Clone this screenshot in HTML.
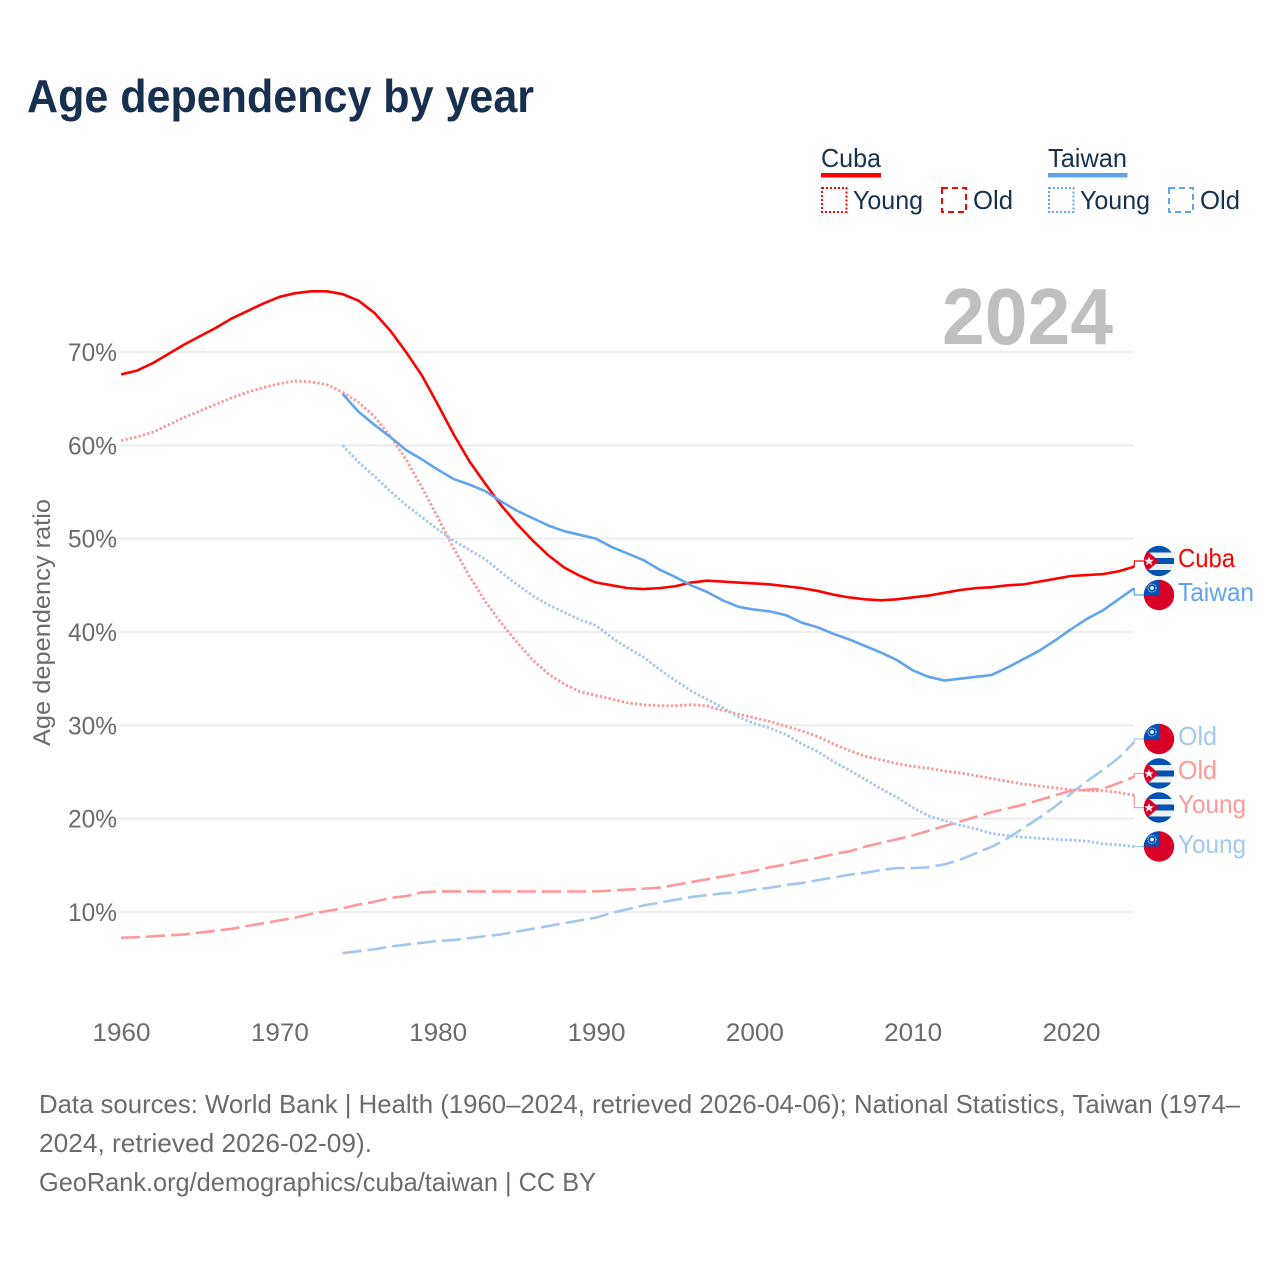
<!DOCTYPE html>
<html lang="en">
<head>
<meta charset="utf-8">
<title>Age dependency by year</title>
<style>
html,body{margin:0;padding:0;background:#fff;width:1280px;height:1280px;overflow:hidden}
svg{display:block}
text{font-family:"Liberation Sans",sans-serif}
</style>
</head>
<body>
<svg id="chart" xmlns="http://www.w3.org/2000/svg" width="1280" height="1280" viewBox="0 0 1280 1280">
<defs>
<clipPath id="flag-clip"><circle cx="0" cy="0" r="15.2"/></clipPath>
<g id="flag-cuba" clip-path="url(#flag-clip)">
<rect x="-16" y="-16" width="32" height="32" fill="#f0f0f0"/>
<rect x="-16" y="-16" width="32" height="7.5" fill="#0052b4"/>
<rect x="-16" y="-3" width="32" height="6" fill="#0052b4"/>
<rect x="-16" y="9" width="32" height="7" fill="#0052b4"/>
<polygon points="-15,-13 0,0 -15,13" fill="#d80027"/>
<polygon points="-10,-4.2 -8.6,-1.2 -5.2,-1.2 -7.8,0.9 -6.9,4.2 -10,2.2 -13,4.2 -12.1,0.9 -14.8,-1.2 -11.4,-1.2" fill="#f0f0f0"/>
</g>
<g id="flag-taiwan" clip-path="url(#flag-clip)">
<rect x="-16" y="-16" width="32" height="32" fill="#d80027"/>
<rect x="-16" y="-16" width="16" height="16" fill="#0052b4"/>
<circle cx="-7" cy="-7" r="1.9" fill="#f0f0f0"/>
<circle cx="-7" cy="-7" r="4" fill="none" stroke="#f0f0f0" stroke-width="1" stroke-dasharray="1 1"/>
</g>
</defs>

<text x="27" y="112" font-size="46" font-weight="bold" fill="#17304f" textLength="507" lengthAdjust="spacingAndGlyphs">Age dependency by year</text>

<g fill="#17304f" font-size="26">
<text x="821" y="167" textLength="60" lengthAdjust="spacingAndGlyphs">Cuba</text>
<rect x="821" y="173" width="60" height="4.5" fill="#ff0000"/>
<rect x="822" y="188" width="24.5" height="24" fill="none" stroke="#ff0000" stroke-width="2" stroke-dasharray="2 2"/>
<text x="853" y="209" textLength="70" lengthAdjust="spacingAndGlyphs">Young</text>
<rect x="942" y="188" width="24" height="24" fill="none" stroke="#ff0000" stroke-width="2" stroke-dasharray="6 4"/>
<text x="973" y="209" textLength="40" lengthAdjust="spacingAndGlyphs">Old</text>

<text x="1048" y="167" textLength="79" lengthAdjust="spacingAndGlyphs">Taiwan</text>
<rect x="1048" y="173" width="79.5" height="4.5" fill="#60a5ec"/>
<rect x="1049" y="188" width="24.5" height="24" fill="none" stroke="#60a5ec" stroke-width="2" stroke-dasharray="2 2"/>
<text x="1080" y="209" textLength="70" lengthAdjust="spacingAndGlyphs">Young</text>
<rect x="1169" y="188" width="24" height="24" fill="none" stroke="#60a5ec" stroke-width="2" stroke-dasharray="6 4"/>
<text x="1200" y="209" textLength="40" lengthAdjust="spacingAndGlyphs">Old</text>
</g>

<g id="grid"></g>
<text x="942" y="344" font-size="80" font-weight="bold" fill="#bfbfbf" textLength="171" lengthAdjust="spacingAndGlyphs">2024</text>
<g id="y-ticks"></g>
<g id="x-ticks"></g>
<text transform="translate(50,746) rotate(-90)" x="0" y="0" font-size="24" fill="#6b6b6b" textLength="247" lengthAdjust="spacingAndGlyphs">Age dependency ratio</text>
<g id="series"></g>

<g font-size="26">
<use href="#flag-cuba" x="1159" y="561"/>
<text x="1178" y="567" fill="#ff0000" textLength="57" lengthAdjust="spacingAndGlyphs">Cuba</text>
<use href="#flag-taiwan" x="1159" y="595"/>
<text x="1178" y="601" fill="#60a5ec" textLength="76" lengthAdjust="spacingAndGlyphs">Taiwan</text>
<use href="#flag-taiwan" x="1159" y="739"/>
<text x="1178" y="745" fill="#a0c8f2" textLength="39" lengthAdjust="spacingAndGlyphs">Old</text>
<use href="#flag-cuba" x="1159" y="773.5"/>
<text x="1178" y="779" fill="#ff9999" textLength="39" lengthAdjust="spacingAndGlyphs">Old</text>
<use href="#flag-cuba" x="1159" y="807.5"/>
<text x="1178" y="813" fill="#ff9999" textLength="68" lengthAdjust="spacingAndGlyphs">Young</text>
<use href="#flag-taiwan" x="1159" y="846.5"/>
<text x="1178" y="853" fill="#a0c8f2" textLength="68" lengthAdjust="spacingAndGlyphs">Young</text>
</g>

<g font-size="26" fill="#6b6b6b">
<text x="39" y="1113" textLength="1201" lengthAdjust="spacingAndGlyphs">Data sources: World Bank | Health (1960–2024, retrieved 2026-04-06); National Statistics, Taiwan (1974–</text>
<text x="39" y="1152" textLength="333" lengthAdjust="spacingAndGlyphs">2024, retrieved 2026-02-09).</text>
<text x="39" y="1191" textLength="557" lengthAdjust="spacingAndGlyphs">GeoRank.org/demographics/cuba/taiwan | CC BY</text>
</g>
</svg>

<script>
const yTickValues = [10, 20, 30, 40, 50, 60, 70];
const xTickValues = [1960, 1970, 1980, 1990, 2000, 2010, 2020];
const cubaStartYear = 1960;
const taiwanStartYear = 1974;
const cubaTotal = [67.6,68.0,68.8,69.8,70.8,71.7,72.6,73.6,74.4,75.2,75.9,76.3,76.5,76.5,76.2,75.5,74.2,72.3,70.0,67.5,64.4,61.2,58.3,55.9,53.6,51.6,49.8,48.2,46.9,46.0,45.3,45.0,44.7,44.6,44.7,44.9,45.3,45.5,45.4,45.3,45.2,45.1,44.9,44.7,44.4,44.0,43.7,43.5,43.4,43.5,43.7,43.9,44.2,44.5,44.7,44.8,45.0,45.1,45.4,45.7,46.0,46.1,46.2,46.5,47.0];
const cubaYoung = [60.5,60.9,61.4,62.2,63.0,63.7,64.4,65.1,65.7,66.2,66.6,66.9,66.8,66.5,65.7,64.6,63.1,61.0,58.5,55.5,52.3,49.0,46.0,43.3,41.0,38.9,37.0,35.5,34.4,33.6,33.2,32.8,32.4,32.2,32.1,32.1,32.2,32.1,31.6,31.2,30.8,30.4,29.9,29.4,28.8,28.0,27.3,26.7,26.3,25.9,25.6,25.4,25.1,24.9,24.6,24.3,24.0,23.7,23.5,23.3,23.1,23.0,23.0,22.8,22.5];
const cubaOld = [7.25,7.3,7.4,7.5,7.6,7.8,8.0,8.2,8.5,8.8,9.1,9.4,9.8,10.1,10.4,10.8,11.1,11.5,11.7,12.1,12.2,12.2,12.2,12.2,12.2,12.2,12.2,12.2,12.2,12.2,12.2,12.3,12.4,12.5,12.6,12.9,13.2,13.5,13.8,14.1,14.4,14.8,15.1,15.5,15.8,16.2,16.5,17.0,17.4,17.8,18.2,18.7,19.2,19.7,20.2,20.7,21.1,21.5,22.0,22.5,23.0,23.1,23.2,23.8,24.5];
const taiwanTotal = [65.5,63.6,62.2,60.9,59.5,58.5,57.4,56.4,55.8,55.1,54.0,53.0,52.2,51.4,50.8,50.4,50.0,49.1,48.4,47.7,46.7,45.9,45.0,44.3,43.4,42.7,42.4,42.2,41.8,41.0,40.5,39.8,39.2,38.5,37.8,37.0,35.9,35.2,34.8,35.0,35.2,35.4,36.2,37.1,38.0,39.1,40.3,41.4,42.3,43.5,44.7];
const taiwanYoung = [60.0,58.2,56.7,55.1,53.6,52.3,51.0,49.8,48.8,47.8,46.4,45.1,43.9,42.9,42.1,41.3,40.7,39.4,38.3,37.3,36.0,34.8,33.7,32.8,31.9,30.9,30.2,29.7,29.0,28.0,27.2,26.1,25.2,24.2,23.2,22.3,21.2,20.3,19.8,19.3,18.9,18.4,18.2,18.0,17.9,17.8,17.7,17.6,17.3,17.2,17.0];
const taiwanOld = [5.6,5.8,6.0,6.3,6.5,6.7,6.9,7.0,7.2,7.4,7.6,7.9,8.2,8.5,8.8,9.1,9.4,9.9,10.3,10.7,11.0,11.3,11.6,11.8,12.0,12.1,12.4,12.6,12.9,13.1,13.4,13.7,14.0,14.2,14.5,14.7,14.7,14.8,15.1,15.6,16.3,17.0,17.9,19.0,20.1,21.3,22.7,24.0,25.2,26.5,28.2];

const NS = 'http://www.w3.org/2000/svg';
function xScale(year) { return 121 + (year - 1960) * (950 / 60); }
function yScale(v) { return 912 - (v - 10) * (560 / 60); }
function make(tag, parent, attrs, text) {
  const el = document.createElementNS(NS, tag);
  for (const k in attrs) el.setAttribute(k, attrs[k]);
  if (text !== undefined) el.textContent = text;
  parent.appendChild(el);
  return el;
}
const grid = document.getElementById('grid');
const yT = document.getElementById('y-ticks');
const xT = document.getElementById('x-ticks');
const seriesG = document.getElementById('series');

yTickValues.forEach(function (v) {
  const line = make('line', grid, {x1: 119, x2: 1134, y1: yScale(v), y2: yScale(v), stroke: '#e8e8e8', 'stroke-width': 1.5});
  
  
  const label = make('text', yT, {x: 117, y: yScale(v) + 9, 'text-anchor': 'end', 'font-size': 25, fill: '#6b6b6b', textLength: 49, lengthAdjust: 'spacingAndGlyphs'}, v + '%');
  
  
});
xTickValues.forEach(function (yr) {
  const label = make('text', xT, {x: xScale(yr) + 0.5, y: 1041, 'text-anchor': 'middle', 'font-size': 25, fill: '#6b6b6b', textLength: 58, lengthAdjust: 'spacingAndGlyphs'}, String(yr));
  
  
});

function pathFor(values, start) {
  return values.map(function (v, i) {
    return (i ? 'L' : 'M') + xScale(start + i).toFixed(2) + ' ' + yScale(v).toFixed(2);
  }).join(' ');
}
function drawSeries(values, start, color, dash, width, labelY, name) {
  const attrs = {d: pathFor(values, start), fill: 'none', stroke: color, 'stroke-width': width, 'stroke-linejoin': 'round'};
  if (dash) attrs['stroke-dasharray'] = dash;
  const line = make('path', seriesG, attrs);
  
  
  const endX = xScale(start + values.length - 1);
  const endY = yScale(values[values.length - 1]);
  const conn = make('path', seriesG, {d: 'M' + endX + ' ' + endY + ' V' + labelY + ' H1144', fill: 'none', stroke: color, 'stroke-width': 1.2});
  
  
}
const DOT = '2.4 2.1';
const DASH = '19 6';
drawSeries(cubaOld, cubaStartYear, '#ff9999', DASH, 2.6, 773.5, 'line-cuba-old');
drawSeries(taiwanOld, taiwanStartYear, '#a0c8f2', DASH, 2.6, 739, 'line-taiwan-old');
drawSeries(cubaYoung, cubaStartYear, '#ff9999', DOT, 2.8, 807.5, 'line-cuba-young');
drawSeries(taiwanYoung, taiwanStartYear, '#a0c8f2', DOT, 2.8, 846.5, 'line-taiwan-young');
drawSeries(cubaTotal, cubaStartYear, '#ff0000', null, 2.6, 561, 'line-cuba-total');
drawSeries(taiwanTotal, taiwanStartYear, '#60a5ec', null, 2.6, 595, 'line-taiwan-total');
</script>
</body>
</html>
